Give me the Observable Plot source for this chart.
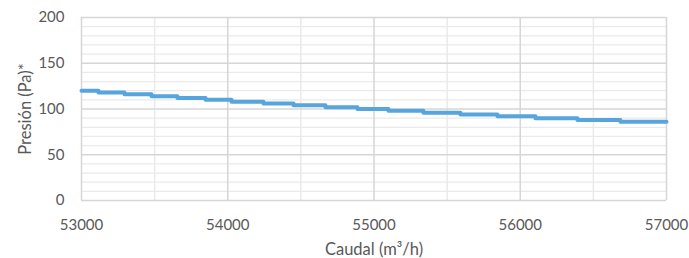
<!DOCTYPE html>
<html>
<head>
<meta charset="utf-8">
<script src="https://cdn.jsdelivr.net/npm/d3@7"></script>
<script src="https://cdn.jsdelivr.net/npm/@observablehq/plot@0.6"></script>
<style>
  html, body { margin: 0; padding: 0; background: #fff; }
  #chart svg { display: block; }
  #chart svg [aria-label="x-axis label"] text,
  #chart svg [aria-label="y-axis label"] text { font-size: 16.5px; }
</style>
</head>
<body>
<div id="chart"></div>
<script>
// Step points: flow (m³/h) where each pressure level begins
const caudal = [53000, 53116, 53294, 53479, 53656, 53848, 54026, 54244, 54450, 54668, 54887, 55099, 55338, 55591, 55844, 56104, 56391, 56685, 57000];
const presion = [120, 118, 116, 114, 112, 110, 108, 106, 104, 102, 100, 98, 96, 94, 92, 90, 88, 86, 86];

const xTicks = [53000, 54000, 55000, 56000, 57000];
const xMinor = [53500, 54500, 55500, 56500];
const yTicks = [0, 50, 100, 150, 200];
const yMinor = [10, 20, 30, 40, 60, 70, 80, 90, 110, 120, 130, 140, 160, 170, 180, 190];

const xLabel = "Caudal (m³/h)";
const yLabel = "Presión (Pa)*";

const data = caudal.map((c, i) => ({ caudal: c, presion: presion[i] }));

const chart = Plot.plot({
  width: 689,
  height: 258,
  marginLeft: 81,
  marginRight: 23,
  marginTop: 17,
  marginBottom: 58,
  style: { fontFamily: "Lato, 'Open Sans', sans-serif", fontSize: "15px", color: "#595959", background: "#fff" },
  x: { domain: [53000, 57000] },
  y: { domain: [0, 200] },
  marks: [
    Plot.ruleY(yMinor, { stroke: "#eaeaea", strokeWidth: 1.2 }),
    Plot.ruleX(xMinor, { stroke: "#eaeaea", strokeWidth: 1.5 }),
    Plot.ruleY(yTicks, { stroke: "#d6d6d6", strokeWidth: 1.5 }),
    Plot.ruleX(xTicks, { stroke: "#d6d6d6", strokeWidth: 1.5 }),
    Plot.axisY({ ticks: yTicks, tickSize: 0, tickPadding: 17, label: yLabel, labelAnchor: "center", labelArrow: "none", labelOffset: 62, fontSize: 15, fill: "#595959" }),
    Plot.axisX({ ticks: xTicks, tickSize: 0, tickPadding: 19, tickFormat: d => String(d), label: xLabel, labelAnchor: "center", labelArrow: "none", labelOffset: 54, fontSize: 15, fill: "#595959" }),
    Plot.line(data, { x: "caudal", y: "presion", curve: "step-after", stroke: "#56a5dd", strokeWidth: 4 })
  ]
});
document.getElementById("chart").appendChild(chart);
</script>
</body>
</html>
